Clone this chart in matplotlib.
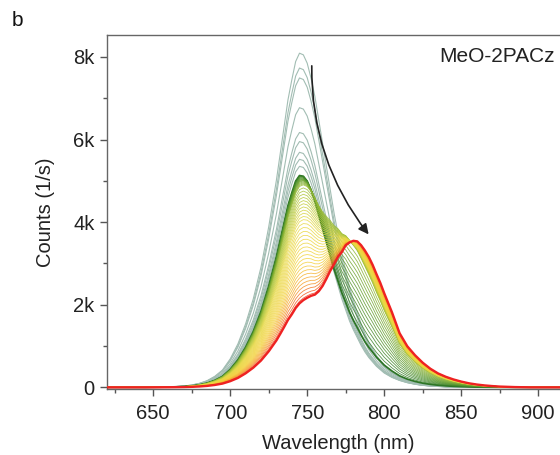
import numpy as np
import matplotlib
matplotlib.use("Agg")
import matplotlib.pyplot as plt
from matplotlib.colors import LinearSegmentedColormap
from matplotlib.ticker import MultipleLocator, FuncFormatter
from matplotlib.patches import FancyArrowPatch

plt.rcParams['font.family'] = ['Liberation Sans', 'DejaVu Sans']

# wavelength grid (nm): 5 nm steps, 2.5 nm around the peaks
wavelength = ([620, 625, 630, 635, 640, 645, 650, 655, 660, 665, 670, 675, 680, 685, 690,
               695, 700, 705, 710, 715, 720, 725]
              + [730 + 2.5 * k for k in range(29)]
              + [805, 810, 815, 820, 825, 830, 835, 840, 845, 850, 855, 860, 865, 870,
                 875, 880, 885, 890, 895, 900, 905, 910, 915, 920])

# normalised emission shape of the 745 nm (mixed-halide) band
shape_745 = ([0, 0, 0, 0, 0, 0, 0.0005, 0.001, 0.0015, 0.0025, 0.004, 0.007, 0.012, 0.02, 0.033,
              0.052, 0.085, 0.13, 0.19, 0.265, 0.36, 0.48]
             + [0.62, 0.70, 0.78, 0.86, 0.92, 0.975, 1.0, 0.995, 0.97, 0.925,
                0.87, 0.80, 0.73, 0.66, 0.59, 0.52, 0.46, 0.40, 0.35, 0.30,
                0.26, 0.225, 0.19, 0.16, 0.135, 0.115, 0.095, 0.08, 0.065]
             + [0.045, 0.031, 0.021, 0.014, 0.009, 0.006, 0.004, 0.0025, 0.0015, 0.001,
                0.0005, 0, 0, 0, 0, 0, 0, 0, 0, 0, 0, 0, 0, 0])

# normalised emission shape of the 782 nm (segregated) band
shape_782 = ([0, 0, 0, 0, 0, 0, 0, 0, 0, 0, 0, 0, 0, 0, 0,
              0, 0, 0, 0.002, 0.004, 0.006, 0.01]
             + [0.016, 0.022, 0.03, 0.04, 0.05, 0.068, 0.09, 0.118, 0.15, 0.19,
                0.23, 0.295, 0.375, 0.47, 0.57, 0.66, 0.75, 0.82, 0.90, 0.95,
                0.985, 1.0, 0.99, 0.965, 0.93, 0.88, 0.82, 0.76, 0.69]
             + [0.555, 0.40, 0.305, 0.24, 0.185, 0.14, 0.105, 0.08, 0.06, 0.044,
                0.031, 0.022, 0.015, 0.01, 0.006, 0.004, 0.002, 0.001, 0, 0, 0, 0, 0, 0])

# first spectra (grey-green): amplitude of the 745 nm band, in kcounts
early_amp_745 = [8.09, 7.73, 7.49, 6.77, 6.17, 5.95, 5.69, 5.52, 5.35]

# later spectra (green -> yellow -> red): amplitudes of the two bands, kcounts
amp_745 = [5.10, 5.08, 5.06, 5.03, 5.00, 4.97, 4.94, 4.91, 4.88, 4.85, 4.82, 4.78, 4.74, 4.70, 4.66,
           4.58, 4.50, 4.42, 4.34, 4.26, 4.18, 4.10, 4.02, 3.94, 3.86, 3.78,
           3.68, 3.58, 3.48, 3.38, 3.28, 3.18, 3.08, 2.98, 2.88, 2.78, 2.68,
           2.58, 2.48, 2.38, 2.28, 2.18, 2.08, 1.98, 1.88, 1.80, 1.75]
amp_782 = [0.30, 0.44, 0.58, 0.72, 0.86, 1.00, 1.14, 1.28, 1.42, 1.56, 1.70, 1.84, 1.98, 2.12, 2.26,
           2.30, 2.32, 2.34, 2.37, 2.39, 2.42, 2.44, 2.46, 2.49, 2.51, 2.54,
           2.57, 2.60, 2.63, 2.66, 2.69, 2.72, 2.75, 2.78, 2.81, 2.84, 2.87,
           2.90, 2.93, 2.96, 2.99, 3.02, 3.05, 3.08, 3.11, 3.13, 3.14]

x_ticks = [650, 700, 750, 800, 850, 900]
y_ticks = [0, 2000, 4000, 6000, 8000]

wl = np.array(wavelength, dtype=float)
sA = np.array(shape_745)
sB = np.array(shape_782)

fig = plt.figure(figsize=(5.6, 4.55), dpi=100)
ax = fig.add_axes([107/560, 66/455, 462/560, 354/455])

for a in early_amp_745:
    ax.plot(wl, a * 1000 * sA, color='#a2bdb3', lw=0.8, zorder=2)

cmap = LinearSegmentedColormap.from_list(
    'gyr', [(0.0, '#2f7a26'), (0.15, '#5c9a2c'), (0.35, '#a9c33a'), (0.55, '#e8da48'),
            (0.78, '#f4d23c'), (0.9, '#f5a02a'), (1.0, '#ee2a1a')])
n = len(amp_745)
for i, (a, b) in enumerate(zip(amp_745, amp_782)):
    t = i / (n - 1)
    y = (a * sA + b * sB) * 1000
    if i == 0:
        ax.plot(wl, y, color='#2d7526', lw=1.3, zorder=3)
    elif i == n - 1:
        ax.plot(wl, y, color='#ee2222', lw=1.7, zorder=5)
    else:
        ax.plot(wl, y, color=cmap(t), lw=0.6, alpha=0.85, zorder=3 + t)

arrow = FancyArrowPatch((753, 7850), (791, 3650), connectionstyle='arc3,rad=0.18',
                        arrowstyle='-|>,head_length=6,head_width=3', color='#222222',
                        lw=1.2, zorder=6)
ax.add_patch(arrow)

ax.set_xlim(620, 920)
ax.set_ylim(-40, 8530)
ax.set_xticks(x_ticks)
ax.set_yticks(y_ticks)
ax.xaxis.set_minor_locator(MultipleLocator(25))
ax.yaxis.set_minor_locator(MultipleLocator(1000))
ax.yaxis.set_major_formatter(FuncFormatter(lambda v, p: '0' if v == 0 else f'{int(round(v/1000))}k'))
ax.tick_params(which='major', direction='out', length=5, width=1, color='#555555',
               labelsize=14.5, labelcolor='#222222', pad=4)
ax.tick_params(which='minor', direction='out', length=3, width=1, color='#555555')
ax.tick_params(axis='x', which='major', pad=6)
for s in ax.spines.values():
    s.set_color('#666666')
    s.set_linewidth(1.0)

ax.set_xlabel('Wavelength (nm)', fontsize=14.5, color='#222222', labelpad=8)
ax.set_ylabel('Counts (1/s)', fontsize=14.5, color='#222222', labelpad=13)

fig.text(555/560, 1 - 56/455, 'MeO-2PACz', ha='right', va='center', fontsize=15, color='#222222')
fig.text(12/560, 1 - 20/455, 'b', ha='left', va='center', fontsize=15, color='#111111')

fig.savefig('out.png', dpi=100)
